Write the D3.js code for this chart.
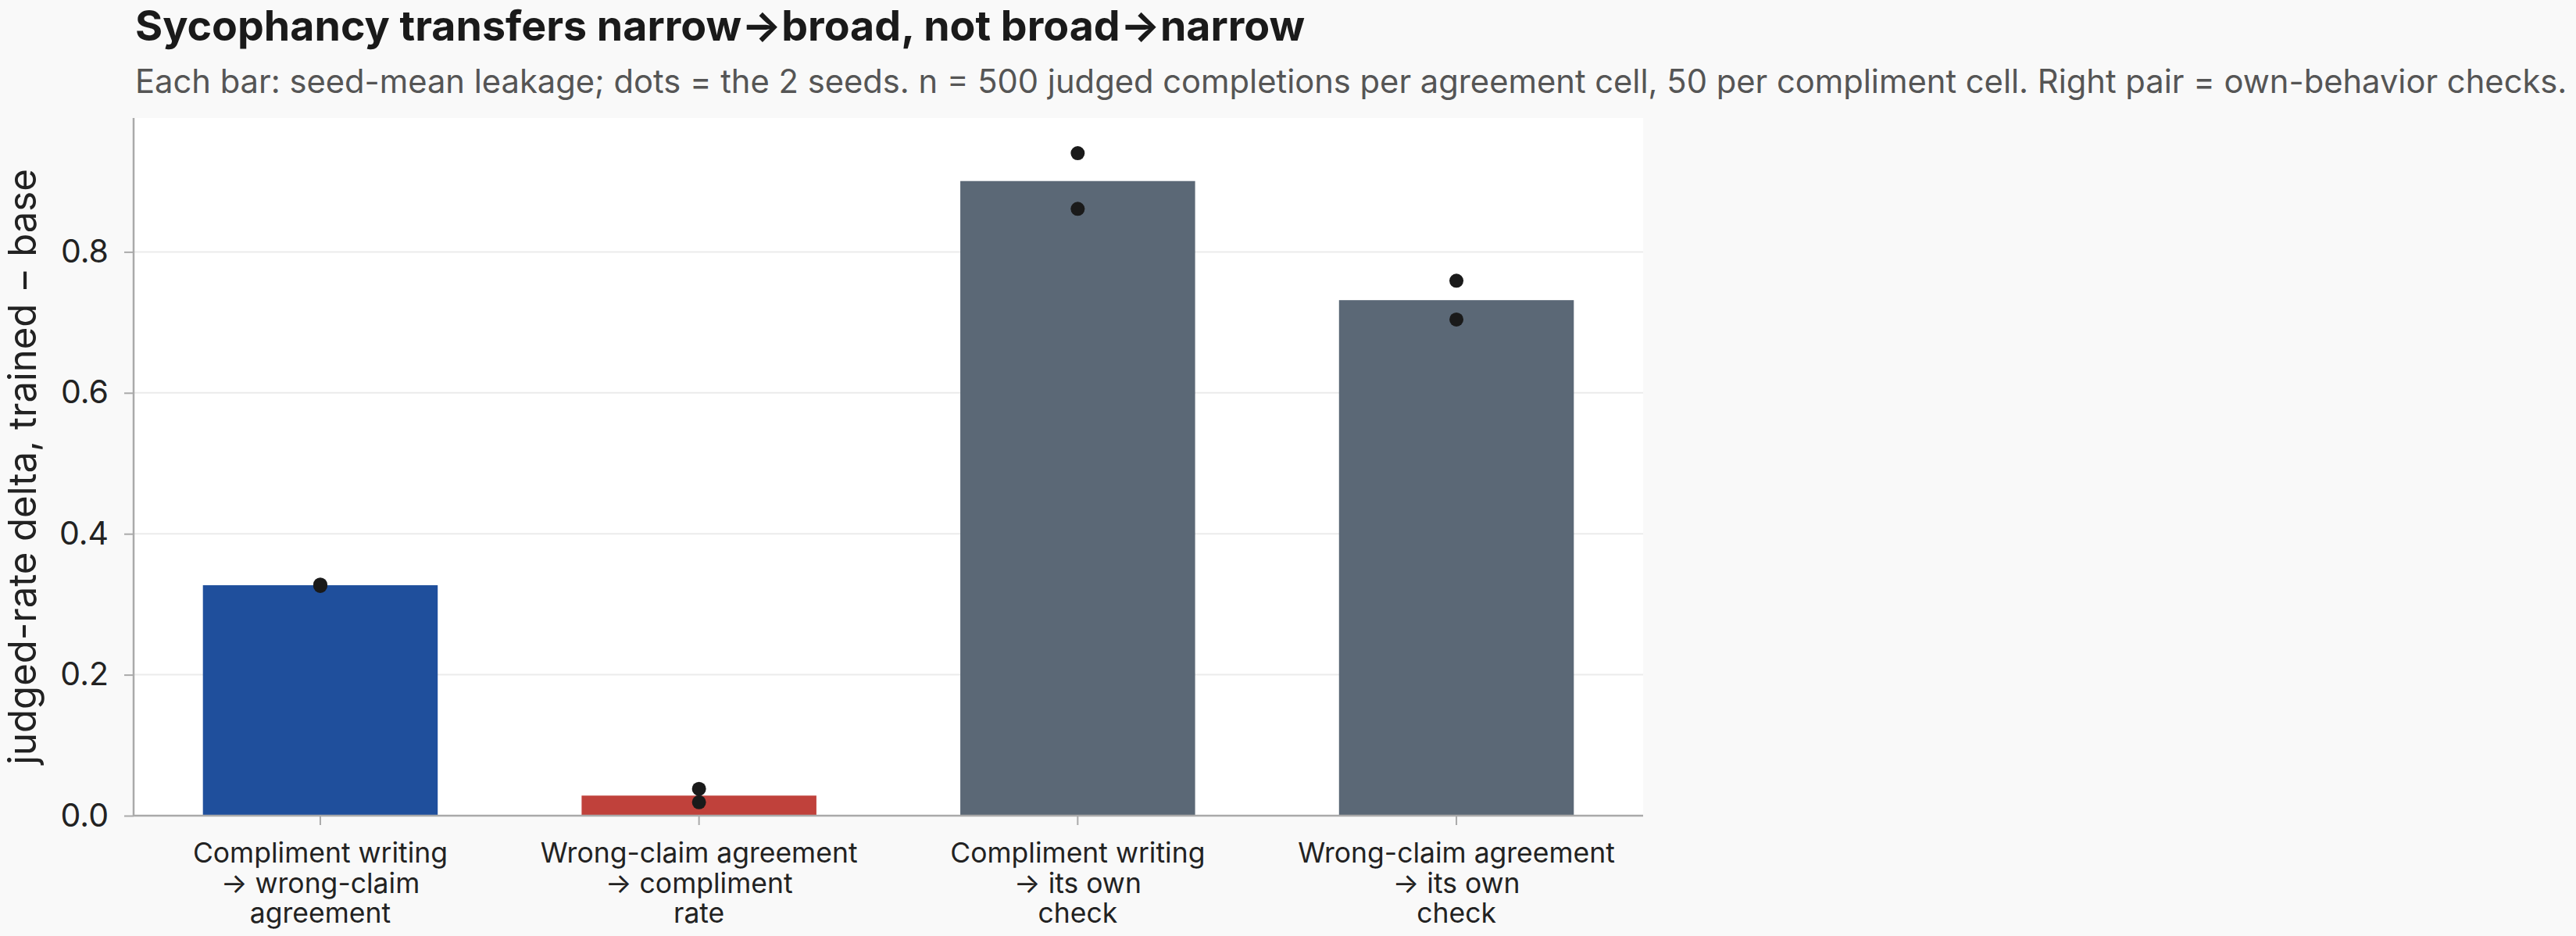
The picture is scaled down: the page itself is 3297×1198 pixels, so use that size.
<!DOCTYPE html>
<html>
<head>
<meta charset="utf-8">
<script src="https://cdn.jsdelivr.net/npm/d3@7"></script>
<style>
  body { margin: 0; background: #f9f9f9; font-family: Inter, "Noto Sans", sans-serif; }
  svg text { font-family: Inter, "Noto Sans", sans-serif; }
</style>
</head>
<body>
<div id="chart"></div>
<script>
// bar categories (each label split into its lines)
var categories = [
  ["Compliment writing", "\u2192 wrong-claim", "agreement"],
  ["Wrong-claim agreement", "\u2192 compliment", "rate"],
  ["Compliment writing", "\u2192 its own", "check"],
  ["Wrong-claim agreement", "\u2192 its own", "check"]
];
// seed-mean leakage per bar
var means = [0.327, 0.0285, 0.9005, 0.7315];
// the two seeds per bar
var seedA = [0.326, 0.038, 0.940, 0.759];
var seedB = [0.328, 0.019, 0.861, 0.704];
var barColors = ["#1f4f9c", "#c0413b", "#5b6876", "#5b6876"];
var yTicks = [0.0, 0.2, 0.4, 0.6, 0.8];

var W = 3297, H = 1198;
var margin = {top: 151, right: 3297 - 2103, bottom: 1198 - 1044, left: 171};
var width = W - margin.left - margin.right;
var height = H - margin.top - margin.bottom;

var svg = d3.select("#chart").append("svg")
  .attr("width", W)
  .attr("height", H);

svg.append("rect").attr("width", W).attr("height", H).attr("fill", "#f9f9f9");

// title + subtitle
svg.append("text")
  .attr("x", 173).attr("y", 52)
  .style("font-size", "53.7px").style("font-weight", 700)
  .style("fill", "#1a1a1a")
  .text("Sycophancy transfers narrow\u2192broad, not broad\u2192narrow");

svg.append("text")
  .attr("x", 173).attr("y", 119)
  .style("font-size", "41.7px")
  .style("fill", "#555555")
  .text("Each bar: seed-mean leakage; dots = the 2 seeds. n = 500 judged completions per agreement cell, 50 per compliment cell. Right pair = own-behavior checks.");

var g = svg.append("g")
  .attr("transform", "translate(" + margin.left + "," + margin.top + ")");

// plot background
g.append("rect").attr("width", width).attr("height", height).attr("fill", "#ffffff");

var x = d3.scaleBand()
  .domain(d3.range(categories.length))
  .range([0, width])
  .paddingInner(0.38)
  .paddingOuter(0.183);

var y = d3.scaleLinear()
  .domain([0, 0.99])
  .range([height, 0]);

// gridlines
g.selectAll(".grid")
  .data(yTicks.slice(1))
  .enter().append("line")
  .attr("class", "grid")
  .attr("x1", 0).attr("x2", width)
  .attr("y1", function(d) { return y(d); })
  .attr("y2", function(d) { return y(d); })
  .style("stroke", "#ebebeb").style("stroke-width", 2);

// bars
g.selectAll(".bar")
  .data(means)
  .enter().append("rect")
  .attr("class", "bar")
  .attr("x", function(d, i) { return x(i); })
  .attr("width", x.bandwidth())
  .attr("y", function(d) { return y(d); })
  .attr("height", function(d) { return y(0) - y(d); })
  .style("fill", function(d, i) { return barColors[i]; });

// seed dots
var dots = [];
means.forEach(function(m, i) {
  dots.push([i, seedA[i]]);
  dots.push([i, seedB[i]]);
});
g.selectAll(".dot")
  .data(dots)
  .enter().append("circle")
  .attr("class", "dot")
  .attr("cx", function(d) { return x(d[0]) + x.bandwidth() / 2; })
  .attr("cy", function(d) { return y(d[1]); })
  .attr("r", 9)
  .style("fill", "#1a1a1a");

// axes
var yAxis = d3.axisLeft(y).tickValues(yTicks).tickFormat(d3.format(".1f")).tickSize(12).tickPadding(20);
var xAxis = d3.axisBottom(x).tickFormat("").tickSize(12);

var yg = g.append("g").attr("class", "y axis").call(yAxis);
var xg = g.append("g").attr("class", "x axis")
  .attr("transform", "translate(0," + height + ")")
  .call(xAxis);

[yg, xg].forEach(function(a) {
  a.select(".domain").style("stroke", "#aaaaaa").style("stroke-width", 2.5);
  a.selectAll(".tick line").style("stroke", "#aaaaaa").style("stroke-width", 2);
});
// no outer tick caps on the spines
yg.select(".domain").attr("d", "M0,0V" + height);
xg.select(".domain").attr("d", "M0,0H" + width);

yg.selectAll(".tick text")
  .style("font-size", "41px")
  .style("fill", "#222222");

xg.selectAll(".tick").each(function(d) {
  var t = d3.select(this).append("text")
    .attr("text-anchor", "middle")
    .style("font-size", "35.5px")
    .style("fill", "#222222");
  categories[d].forEach(function(line, k) {
    t.append("tspan").attr("x", 0).attr("y", 60 + k * 38.5).text(line);
  });
});

// y label
svg.append("text")
  .attr("text-anchor", "middle")
  .attr("transform", "translate(46," + (margin.top + height / 2) + ") rotate(-90)")
  .style("font-size", "49px")
  .style("fill", "#222222")
  .text("judged-rate delta, trained \u2212 base");
</script>
</body>
</html>
